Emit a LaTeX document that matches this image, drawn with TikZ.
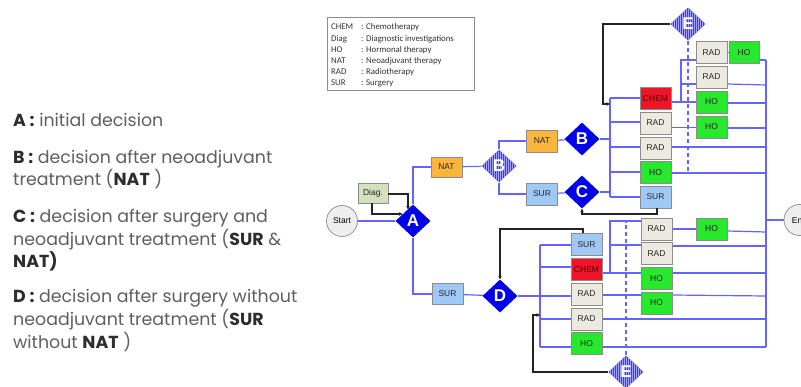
\documentclass[tikz,border=0pt]{standalone}
\usepackage{fontspec}
\setmainfont{Liberation Sans}
\newfontfamily\notefont{Poppins}
\newfontfamily\legendfont{Carlito}
\usetikzlibrary{shapes.geometric,patterns.meta,arrows.meta,backgrounds}

\definecolor{flowblue}{RGB}{100,100,255}
\definecolor{decblue}{RGB}{0,0,235}
\definecolor{stripeblue}{RGB}{60,60,235}
\definecolor{stripelight}{RGB}{160,160,252}
\definecolor{boxline}{RGB}{140,140,140}
\definecolor{natfill}{RGB}{250,182,60}
\definecolor{surfill}{RGB}{160,200,245}
\definecolor{radfill}{RGB}{236,233,224}
\definecolor{hofill}{RGB}{40,232,45}
\definecolor{chemfill}{RGB}{240,20,40}
\definecolor{diagfill}{RGB}{212,225,190}
\definecolor{termfill}{RGB}{238,238,238}
\definecolor{notegray}{RGB}{95,95,95}
\definecolor{notedark}{RGB}{45,45,45}
\definecolor{backline}{RGB}{35,35,35}

\tikzset{
  bx/.style={draw=boxline, line width=0.7pt, minimum width=31pt, minimum height=22pt,
    inner sep=0pt, font=\fontsize{8.5}{9}\selectfont, text=black!85},
  natbox/.style={bx, fill=natfill},
  surbox/.style={bx, fill=surfill},
  radbox/.style={bx, fill=radfill},
  hobox/.style={bx, fill=hofill},
  chembox/.style={bx, fill=chemfill, text=black!70!red},
  decnode/.style={diamond, fill=decblue, minimum width=35pt, minimum height=33pt,
    inner sep=0pt, text=white, font=\bfseries\fontsize{17}{17}\selectfont},
  stripednode/.style={diamond, minimum width=35pt, minimum height=33pt, inner sep=0pt,
    preaction={fill=stripeblue},
    pattern={Lines[angle=90,distance=2pt,line width=0.9pt]}, pattern color=stripelight,
    text=white, font=\bfseries\fontsize{17}{17}\selectfont},
  term/.style={circle, draw=boxline, line width=0.7pt, fill=termfill, minimum size=31pt,
    inner sep=0pt, font=\fontsize{8.5}{9}\selectfont},
  flow/.style={draw=flowblue, line width=1.2pt},
  dashflow/.style={draw=flowblue, line width=1.3pt, dash pattern=on 4pt off 3pt},
  back/.style={draw=backline, line width=1.3pt, -{Stealth[length=3.5pt,width=3.5pt]}},
  noteline/.style={anchor=base west, inner sep=0pt, text=notegray,
    font=\notefont\fontsize{17.4}{19}\selectfont},
  legline/.style={anchor=base west, inner sep=0pt, font=\legendfont\fontsize{8.8}{9}\selectfont, text=black!80},
}
\newcommand{\keyterm}[1]{\textcolor{notedark}{\textbf{#1}}}

\begin{document}
\begin{tikzpicture}[x=1pt,y=-1pt]
\useasboundingbox (0,0) rectangle (801,387);

% ---------- explanatory notes ----------
\node[noteline] (n1) at (13,126.5) {\keyterm{A :} initial decision};
\node[noteline] (n2) at (13,164) {\keyterm{B :} decision after neoadjuvant};
\node[noteline] (n3) at (13,185.5) {treatment (\keyterm{NAT} )};
\node[noteline] (n4) at (13,223) {\keyterm{C :} decision after surgery and};
\node[noteline] (n5) at (13,245.5) {neoadjuvant treatment (\keyterm{SUR} \&};
\node[noteline] (n6) at (13,267.5) {\keyterm{NAT)}};
\node[noteline] (n7) at (13,303) {\keyterm{D :} decision after surgery without};
\node[noteline] (n8) at (13,325.5) {neoadjuvant treatment (\keyterm{SUR}};
\node[noteline] (n9) at (13,348.5) {without \keyterm{NAT} )};

% ---------- legend ----------
\node[draw=boxline, line width=0.7pt, minimum width=147pt, minimum height=73pt, inner sep=0pt] (legend) at (400.5,53.5) {};
\foreach \ab/\txt [count=\i] in {CHEM/Chemotherapy, Diag/Diagnostic investigations, HO/Hormonal therapy,
    NAT/Neoadjuvant therapy, RAD/Radiotherapy, SUR/Surgery}{
  \node[legline] (la\i) at (331,{18.8+11.2*\i}) {\ab};
  \node[legline] (lt\i) at (361,{18.8+11.2*\i}) {: \txt};
}

% ---------- start, first decision ----------
\node[term] (start) at (342,221) {Start};
\node[bx, fill=diagfill, minimum width=30pt, minimum height=20pt] (diag) at (373,193) {Diag.};
\node[decnode] (A) at (413,221) {A};
\node[natbox, minimum height=20pt] (nat1) at (446.5,167) {NAT};
\node[stripednode] (Bs) at (499,166) {B};
\node[natbox] (nat2) at (542,141) {NAT};
\node[surbox] (sur2) at (542,194) {SUR};
\node[decnode] (B) at (582,139) {B};
\node[decnode] (C) at (582,192) {C};

% upper treatment columns
\node[chembox] (chem1) at (655.5,98.5) {CHEM};
\node[radbox] (rad1) at (655.5,123) {RAD};
\node[radbox] (rad2) at (655.5,148) {RAD};
\node[hobox] (ho1) at (655.5,172.5) {HO};
\node[surbox] (sur5) at (655.5,197) {SUR};
\node[radbox] (rada) at (711.5,52.5) {RAD};
\node[hobox, minimum width=30pt] (hoa) at (744,52.5) {HO};
\node[radbox] (radb) at (711.5,77) {RAD};
\node[hobox] (hoc) at (711.5,102) {HO};
\node[hobox] (hod) at (711.5,127) {HO};
\node[stripednode] (Etop) at (688,24) {E};

% end
\node[term] (finish) at (799.5,220) {End};

% lower branch
\node[surbox, minimum height=21pt] (sur3) at (447.5,294) {SUR};
\node[decnode] (D) at (500,296) {D};
\node[surbox] (sur4) at (586.5,244.5) {SUR};
\node[chembox] (chem2) at (586.5,269.5) {CHEM};
\node[radbox] (rad3) at (586.5,294) {RAD};
\node[radbox] (rad4) at (586.5,319) {RAD};
\node[hobox] (ho5) at (586.5,343.5) {HO};
\node[radbox] (radla) at (656.5,229) {RAD};
\node[radbox] (radlb) at (656.5,253.5) {RAD};
\node[hobox] (hol1) at (656.5,278.5) {HO};
\node[hobox] (hol2) at (656.5,303) {HO};
\node[hobox] (hol3) at (711.5,229) {HO};
\node[stripednode] (Elow) at (626,372) {E};

% ---------- connectors, behind the boxes ----------
\begin{scope}[on background layer]
\fill[white] (0,0) rectangle (801,387);

% first decision
\draw[flow] (start) -- (A);
\draw[flow] (A.north) |- (nat1.west);
\draw[flow] (nat1) -- (Bs);
\draw[flow] (Bs.north) |- (nat2.west);
\draw[flow] (Bs.south) |- (sur2.west);
\draw[flow] (nat2) -- (B);
\draw[flow] (sur2) -- (C);

% upper bus and rows
\coordinate (ub1) at (610,98);
\coordinate (ub2) at (610,197);
\draw[flow] (B.east) -- (B.east -| ub1);
\draw[flow] (C.east) -- (C.east -| ub1);
\draw[flow] (ub1) -- (ub2);
\draw[flow] (ub1) -- (ub1 -| chem1.west);
\draw[flow] (610,122) -- (rad1.west |- 0,122);
\draw[flow] (610,147) -- (rad2.west |- 0,147);
\draw[flow] (610,172) -- (ho1.west |- 0,172);
\draw[flow] (ub2) -- (sur5.west);

\coordinate (uc1) at (681,102);
\coordinate (uc2) at (681,60);
\draw[flow] (chem1.east |- uc1) -- (hoc.west |- uc1);
\draw[flow] (uc1) -- (uc2) -- (rada.west |- uc2);
\draw[flow] (681,84) -- (radb.west |- 0,84);
\draw[flow] (rad1.east |- 0,127.5) -- (hod.west |- 0,127.5);
\draw[flow] (rada) -- (hoa);

% right collecting bus
\coordinate (rb1) at (766,60);
\coordinate (rb2) at (766,347);
\draw[flow] (rb1) -- (rb2);
\draw[flow] (hoa.east |- rb1) -- (rb1);
\draw[flow] (radb.east |- 0,84) -- (766,85);
\draw[flow] (hoc.east |- 0,103) -- (766,103);
\draw[flow] (hod.east |- 0,128) -- (766,128);
\draw[flow] (rad2.east |- 0,147) -- (766,147);
\draw[flow] (ho1.east |- 0,173) -- (766,173);
\draw[flow] (766,220) -- (finish.west);

% lower branch
\draw[flow] (A.south) |- (sur3.west);
\draw[flow] (sur3) -- (D);
\coordinate (lb1) at (540,245);
\coordinate (lb2) at (540,347);
\draw[flow] (D.east) -- (rad3.west |- D.east);
\draw[flow] (lb1) -- (lb2);
\draw[flow] (lb1) -- (sur4.west |- lb1);
\draw[flow] (540,267) -- (chem2.west |- 0,267);
\draw[flow] (540,319) -- (766,319);
\draw[flow] (lb2) -- (rb2);

\coordinate (mb1) at (610,221);
\coordinate (mb2) at (610,273);
\draw[flow] (chem2.east |- mb2) -- (766,273);
\draw[flow] (mb2) -- (mb1) -- (radla.west |- mb1);
\draw[flow] (610,245) -- (radlb.west |- 0,245);
\draw[flow] (radla.east |- 0,229) -- (hol3.west |- 0,229);
\draw[flow] (hol3.east |- 0,231) -- (766,232);
\draw[flow] (radlb.east |- 0,246) -- (766,246);
\draw[flow] (rad3.east |- 0,295) -- (hol2.west |- 0,295);
\draw[flow] (hol2.east |- 0,295) -- (766,296);

% dashed links from the E decisions
\draw[dashflow] (Etop.south) -- (688,171);
\draw[dashflow] (Elow.north) -- (626,222);
\end{scope}

% ---------- feedback arrows ----------
\draw[back] (diag.east |- 0,194) -- (408,194) -- (408,209.5);
\draw[back] (diag.south -| 372,0) -- (372,214) -- (402.5,214);
\draw[back] (Etop.west) -- (603,24) -- (603,104) -- (610,104);
\draw[back] (sur5.south -| 657,0) -- (657,214) -- (582,214) -- (C.south);
\draw[back] (sur4.north -| 583,0) -- (583,229) -- (500,229) -- (D.north);
\draw[back] (Elow.west) -- (533,372) -- (533,315) -- (540,315);
\end{tikzpicture}
\end{document}
